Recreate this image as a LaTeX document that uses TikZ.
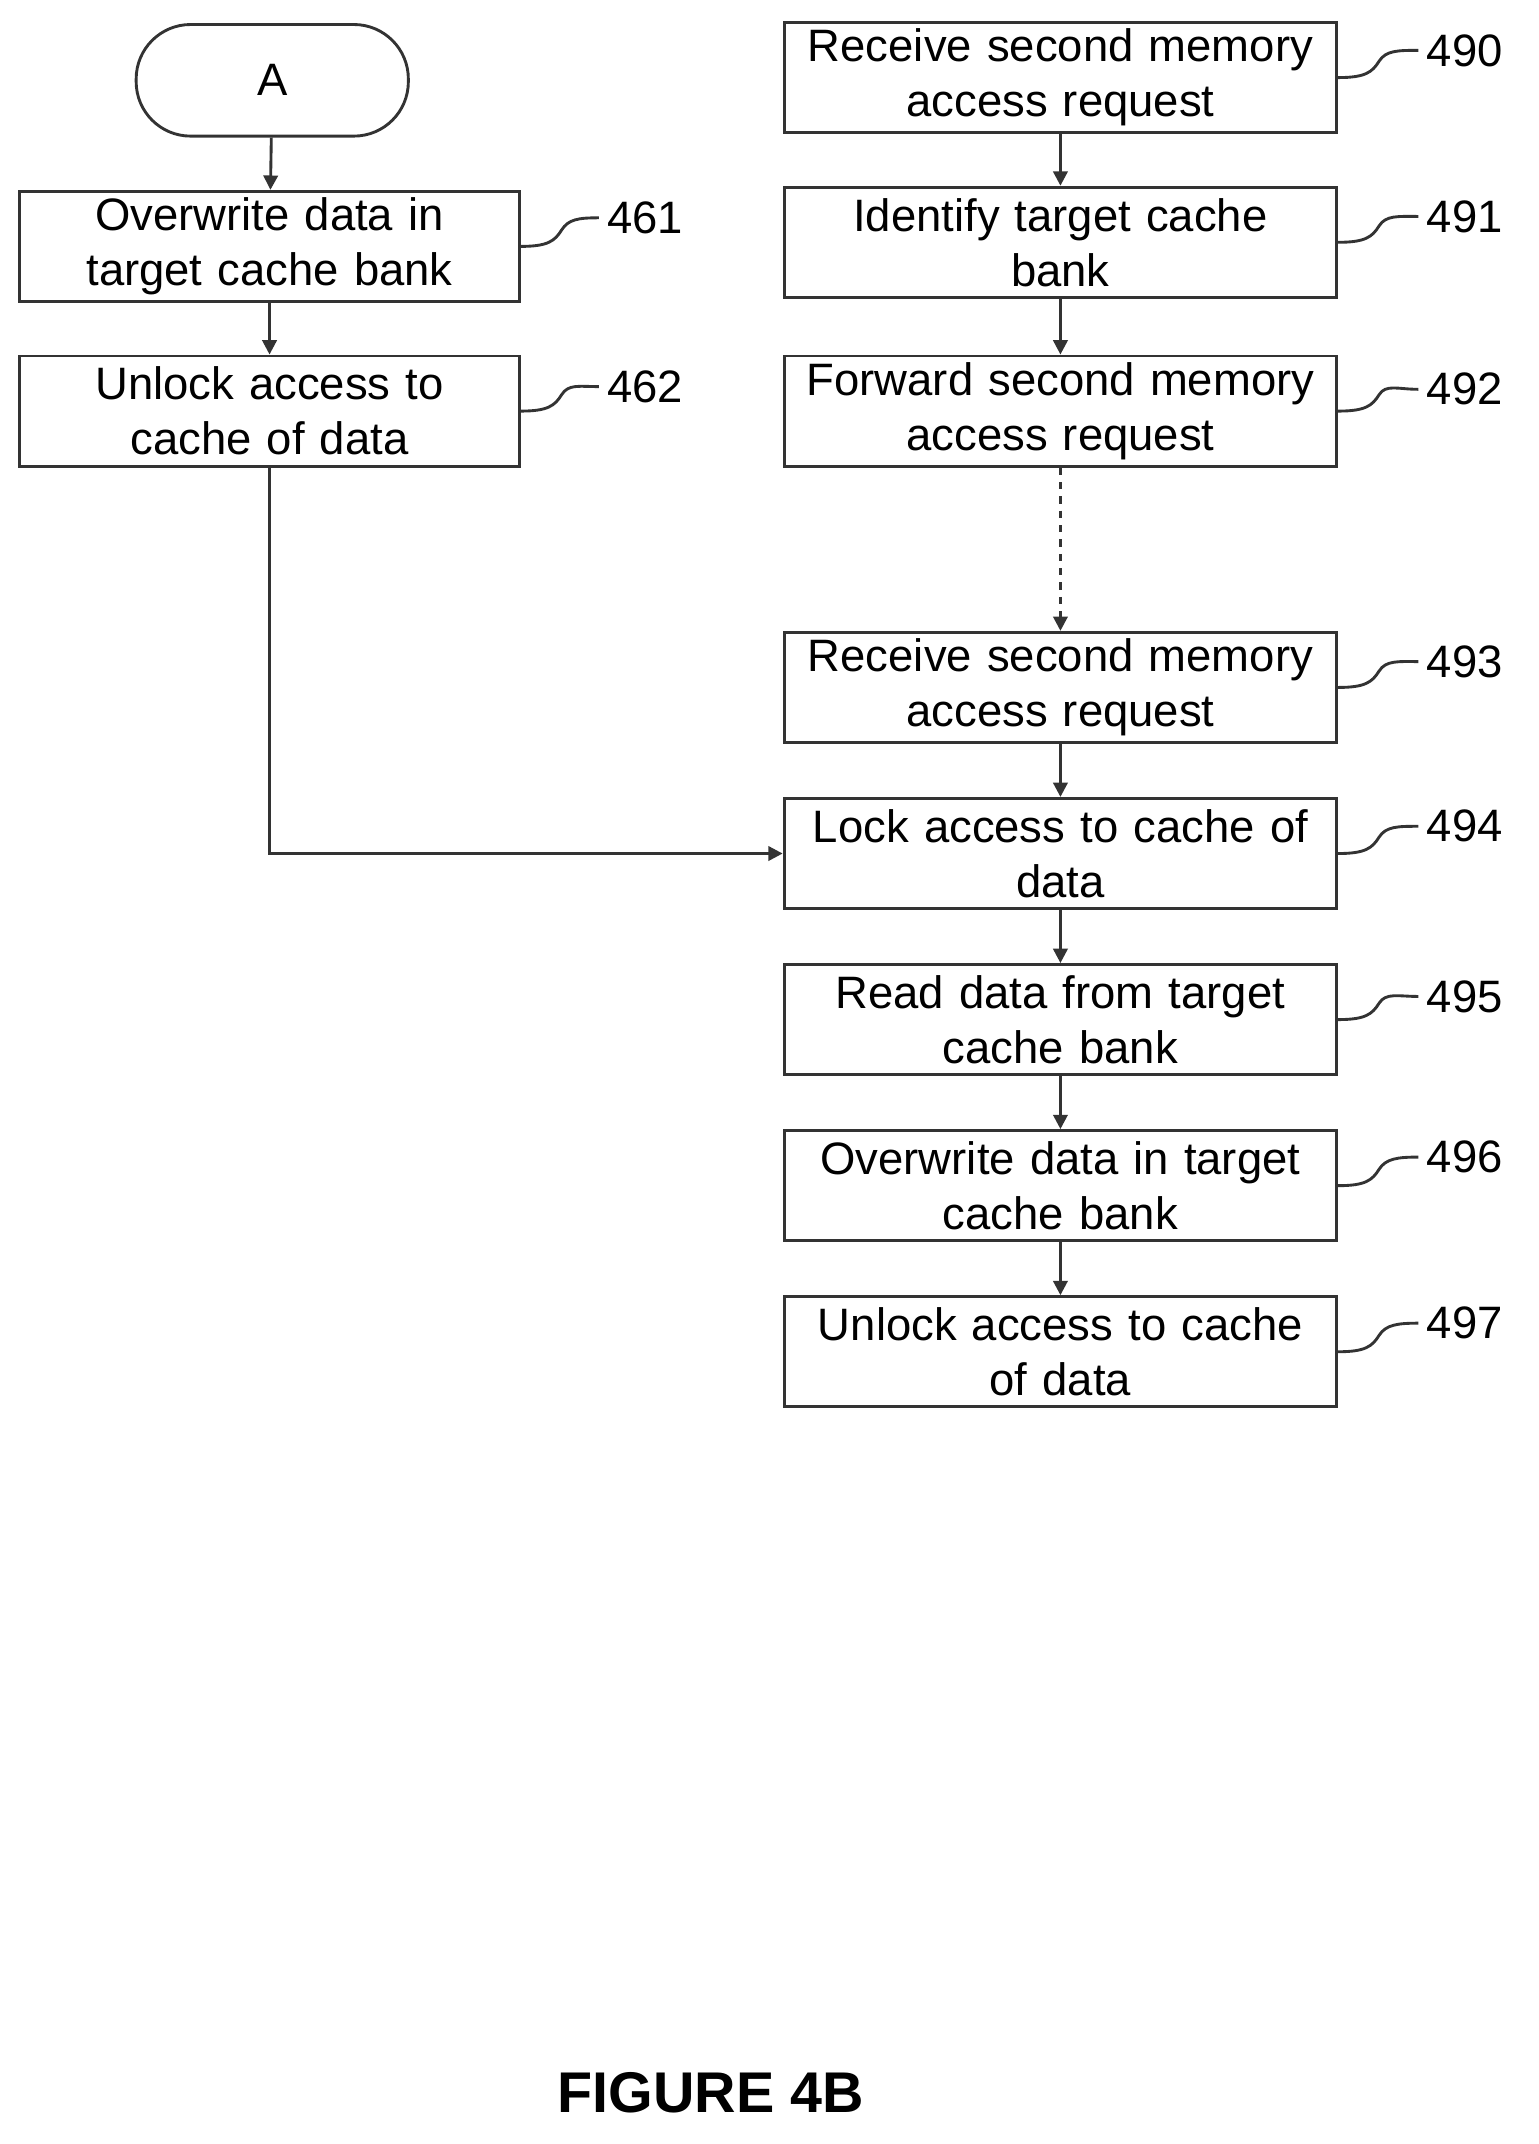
\documentclass[tikz,border=0pt]{standalone}
\usepackage{fontspec}
\setmainfont{Liberation Sans}
\usetikzlibrary{arrows.meta}
\begin{document}
\begin{tikzpicture}[x=0.02cm,y=-0.02cm,
  box/.style={draw=black!80,line width=1.2pt,inner sep=0pt,align=center,font=\fontsize{19}{23}\selectfont},
  lab/.style={font=\fontsize{19}{23}\selectfont,anchor=west},
  arr/.style={draw=black!80,line width=1.2pt,-{Triangle[width=6pt,length=6pt]}},
  sq/.style={draw=black!80,line width=1.2pt}]
\useasboundingbox (0,0) rectangle (1130,1575);
\node[box,rounded corners=0.8cm,minimum width=4cm,minimum height=1.64cm] (A) at (200,59) {A};
\newcommand\bx[5]{\node[box,minimum width=#4*0.02cm,minimum height=81*0.02cm,text width=#4*0.02cm-4pt] (#1) at (#2,#3) {#5};}
\bx{b461}{198}{181}{367}{Overwrite data in\\target cache bank}
\bx{b462}{198}{302}{367}{Unlock access to\\cache of data}
\bx{b490}{779}{57}{406}{Receive second memory\\access request}
\bx{b491}{779}{178}{406}{Identify target cache\\bank}
\bx{b492}{779}{302}{406}{Forward second memory\\access request}
\bx{b493}{779}{505}{406}{Receive second memory\\access request}
\bx{b494}{779}{627}{406}{Lock access to cache of\\data}
\bx{b495}{779}{749}{406}{Read data from target\\cache bank}
\bx{b496}{779}{871}{406}{Overwrite data in target\\cache bank}
\bx{b497}{779}{993}{406}{Unlock access to cache\\of data}
\newcommand\lb[3]{\node[lab] (l#1) at (#2,#3) {#1};
  \draw[sq] (b#1.east) .. controls +(20,0) and +(-5,8) .. +(30,-12) .. controls +(5,-8) and +(-15,0) .. (l#1.west);}
\lb{461}{440}{160}
\lb{462}{440}{284}
\lb{490}{1042}{37}
\lb{491}{1042}{159}
\lb{492}{1042}{286}
\lb{493}{1042}{486}
\lb{494}{1042}{607}
\lb{495}{1042}{732}
\lb{496}{1042}{850}
\lb{497}{1042}{972}
\draw[arr] (A) -- (b461);
\draw[arr] (b461) -- (b462);
\draw[arr] (b490) -- (b491);
\draw[arr] (b491) -- (b492);
\draw[arr,dashed] (b492) -- (b493);
\draw[arr] (b493) -- (b494);
\draw[arr] (b494) -- (b495);
\draw[arr] (b495) -- (b496);
\draw[arr] (b496) -- (b497);
\draw[arr] (b462.south) |- (b494.west);
\node[font=\bfseries\fontsize{24}{28}\selectfont] (fig) at (522,1537) {FIGURE 4B};
\end{tikzpicture}
\end{document}
